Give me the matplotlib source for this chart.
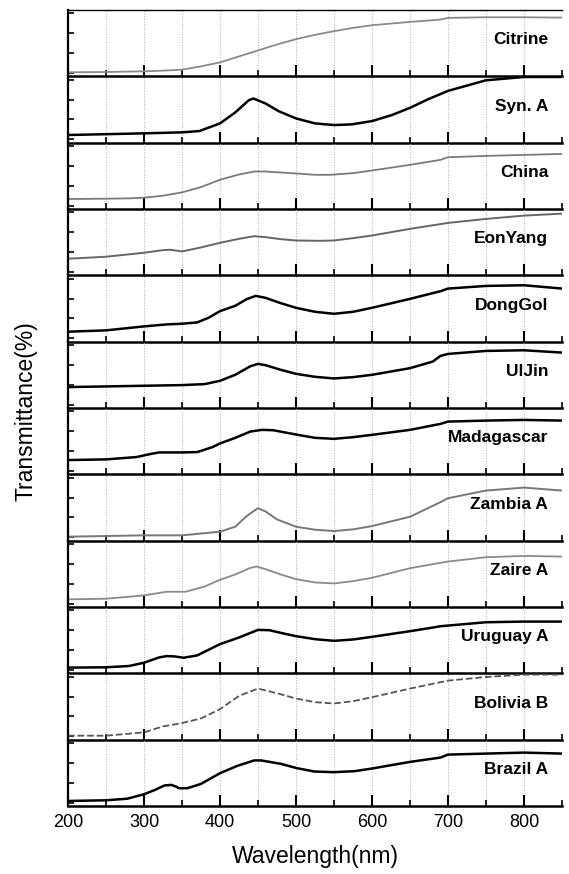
import matplotlib.pyplot as plt
from matplotlib.ticker import MultipleLocator

plt.rcParams['font.family'] = ['Liberation Sans', 'DejaVu Sans']

# spectra, top to bottom; y is relative transmittance inside each panel (0..1)
names = ['Citrine', 'Syn. A', 'China', 'EonYang', 'DongGol', 'UlJin',
         'Madagascar', 'Zambia A', 'Zaire A', 'Uruguay A', 'Bolivia B', 'Brazil A']

citrine_x = [200, 250, 300, 325, 350, 375, 400, 425, 450, 475, 500, 525, 550, 575, 600, 650, 690, 700, 750, 800, 850]
citrine_y = [0.06, 0.065, 0.075, 0.085, 0.10, 0.15, 0.21, 0.30, 0.39, 0.48, 0.56, 0.625, 0.68, 0.73, 0.77, 0.82, 0.855, 0.88, 0.89, 0.89, 0.885]

syn_x = [200, 300, 350, 373, 400, 420, 438, 444, 460, 477, 500, 525, 550, 573, 600, 626, 650, 674, 700, 750, 800, 850]
syn_y = [0.115, 0.14, 0.155, 0.175, 0.29, 0.455, 0.64, 0.665, 0.59, 0.475, 0.365, 0.29, 0.265, 0.275, 0.325, 0.415, 0.525, 0.655, 0.78, 0.94, 0.99, 0.99]

china_x = [200, 250, 280, 300, 325, 350, 375, 400, 425, 445, 460, 480, 500, 525, 545, 575, 600, 650, 690, 700, 750, 800, 850]
china_y = [0.15, 0.155, 0.16, 0.17, 0.20, 0.25, 0.33, 0.44, 0.52, 0.565, 0.565, 0.55, 0.535, 0.515, 0.515, 0.54, 0.58, 0.665, 0.74, 0.78, 0.80, 0.815, 0.83]

eon_x = [200, 250, 300, 325, 335, 350, 375, 400, 425, 445, 460, 480, 500, 530, 550, 575, 600, 650, 700, 750, 800, 850]
eon_y = [0.25, 0.28, 0.34, 0.38, 0.385, 0.36, 0.42, 0.49, 0.55, 0.59, 0.575, 0.545, 0.525, 0.52, 0.525, 0.56, 0.60, 0.70, 0.79, 0.85, 0.90, 0.93]

dong_x = [200, 250, 300, 330, 350, 370, 385, 400, 420, 435, 447, 460, 480, 500, 525, 550, 575, 600, 650, 690, 700, 750, 800, 850]
dong_y = [0.15, 0.17, 0.23, 0.26, 0.27, 0.29, 0.36, 0.46, 0.54, 0.64, 0.69, 0.66, 0.58, 0.51, 0.45, 0.42, 0.45, 0.51, 0.645, 0.76, 0.80, 0.84, 0.85, 0.80]

uljin_x = [200, 250, 300, 350, 380, 400, 420, 440, 450, 460, 480, 500, 525, 550, 575, 600, 650, 680, 690, 700, 750, 800, 850]
uljin_y = [0.315, 0.325, 0.335, 0.345, 0.36, 0.41, 0.50, 0.63, 0.665, 0.645, 0.575, 0.515, 0.47, 0.445, 0.465, 0.50, 0.60, 0.70, 0.785, 0.815, 0.86, 0.87, 0.835]

mada_x = [200, 250, 290, 310, 320, 350, 370, 390, 400, 420, 440, 455, 470, 500, 525, 550, 575, 600, 650, 690, 700, 750, 800, 850]
mada_y = [0.215, 0.225, 0.26, 0.31, 0.33, 0.33, 0.335, 0.41, 0.465, 0.55, 0.645, 0.67, 0.665, 0.60, 0.55, 0.535, 0.56, 0.595, 0.67, 0.76, 0.795, 0.81, 0.82, 0.81]

zambia_x = [200, 250, 300, 350, 400, 420, 435, 450, 460, 475, 500, 525, 550, 575, 600, 650, 690, 700, 750, 800, 850]
zambia_y = [0.06, 0.07, 0.08, 0.08, 0.135, 0.21, 0.37, 0.49, 0.44, 0.32, 0.21, 0.165, 0.145, 0.17, 0.22, 0.36, 0.58, 0.64, 0.755, 0.80, 0.755]

zaire_x = [200, 250, 300, 330, 355, 380, 400, 420, 440, 448, 460, 480, 500, 525, 550, 575, 600, 650, 700, 750, 800, 850]
zaire_y = [0.115, 0.125, 0.175, 0.23, 0.23, 0.31, 0.41, 0.49, 0.59, 0.61, 0.57, 0.49, 0.42, 0.37, 0.355, 0.39, 0.44, 0.585, 0.685, 0.75, 0.77, 0.76]

uru_x = [200, 250, 280, 300, 320, 330, 340, 352, 370, 400, 425, 450, 465, 480, 500, 525, 550, 575, 600, 650, 680, 690, 700, 750, 800, 850]
uru_y = [0.086, 0.091, 0.11, 0.16, 0.24, 0.26, 0.255, 0.235, 0.27, 0.44, 0.54, 0.655, 0.65, 0.61, 0.56, 0.515, 0.49, 0.51, 0.55, 0.635, 0.69, 0.71, 0.72, 0.77, 0.78, 0.78]

bol_x = [200, 250, 300, 325, 350, 375, 400, 425, 450, 475, 500, 525, 550, 575, 600, 650, 700, 750, 800, 850]
bol_y = [0.06, 0.06, 0.11, 0.20, 0.25, 0.32, 0.46, 0.66, 0.77, 0.70, 0.62, 0.565, 0.545, 0.58, 0.64, 0.77, 0.89, 0.945, 0.98, 0.98]

bra_x = [200, 250, 278, 300, 314, 327, 336, 342, 346, 357, 375, 400, 423, 445, 454, 480, 501, 524, 550, 577, 600, 650, 690, 700, 750, 800, 850]
bra_y = [0.076, 0.086, 0.11, 0.177, 0.24, 0.31, 0.318, 0.293, 0.268, 0.268, 0.333, 0.495, 0.606, 0.687, 0.687, 0.636, 0.571, 0.52, 0.51, 0.525, 0.565, 0.665, 0.73, 0.775, 0.79, 0.805, 0.79]

xs = [citrine_x, syn_x, china_x, eon_x, dong_x, uljin_x, mada_x, zambia_x, zaire_x, uru_x, bol_x, bra_x]
ys = [citrine_y, syn_y, china_y, eon_y, dong_y, uljin_y, mada_y, zambia_y, zaire_y, uru_y, bol_y, bra_y]
colors = ['#8a8a8a', 'black', '#7a7a7a', '#666666', 'black', 'black',
          'black', '#777777', '#8a8a8a', 'black', '#555555', 'black']
styles = ['-'] * 10 + ['--', '-']
widths = [1.3, 1.8, 1.3, 1.4, 1.8, 1.8, 1.8, 1.4, 1.3, 1.8, 1.3, 1.8]

fig, axes = plt.subplots(len(names), 1, sharex=True, figsize=(5.69, 8.74), dpi=100)
fig.subplots_adjust(left=0.1195, right=0.9877, top=0.9886, bottom=0.0778, hspace=0)

for ax, name, x, y, c, ls, lw in zip(axes, names, xs, ys, colors, styles, widths):
    ax.set_facecolor('none')  # keep the panel above's bottom spine fully visible
    ax.plot(x, y, color=c, ls=ls, lw=lw, solid_joinstyle='round')
    ax.set_xlim(200, 850)
    ax.set_ylim(0, 1)
    ax.xaxis.set_major_locator(MultipleLocator(100))
    ax.xaxis.set_minor_locator(MultipleLocator(50))
    for xv in range(250, 850, 50):
        ax.axvline(xv, color='#aaaaaa', ls=':', lw=0.7, zorder=0)
    ax.set_yticks([0.05, 0.35, 0.65, 0.95])
    ax.set_yticklabels([])
    ax.tick_params(axis='y', direction='in', length=4, width=1.2, left=True)
    ax.tick_params(axis='x', which='major', direction='in', length=8, width=1.5,
                   bottom=True, top=False, labelsize=13, pad=6)
    ax.tick_params(axis='x', which='minor', direction='in', length=4, width=1.2,
                   bottom=True, top=False)
    ax.spines['right'].set_visible(False)
    ax.spines['top'].set_visible(ax is axes[0])
    ax.spines['top'].set_linewidth(1.0)
    ax.spines['left'].set_linewidth(1.6)
    ax.spines['bottom'].set_linewidth(1.8)
    ax.text(0.972, 0.55, name, transform=ax.transAxes, ha='right', va='center',
            fontsize=12.5, fontweight='bold')

axes[-1].set_xlabel('Wavelength(nm)', fontsize=16.5, labelpad=10)
fig.text(0.045, 0.53, 'Transmittance(%)', rotation=90, ha='center', va='center', fontsize=16.5)

fig.savefig('out.png', dpi=100)
